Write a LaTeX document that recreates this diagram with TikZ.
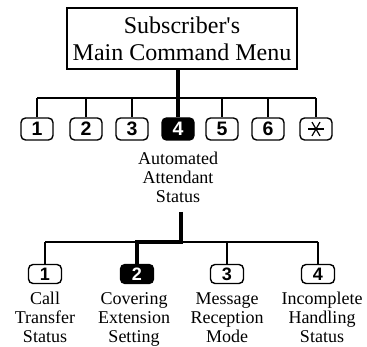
\documentclass[tikz,border=0pt]{standalone}
\usepackage{fontspec}
\setmainfont{Liberation Serif}[Ligatures=TeXOff]
\newfontfamily\keyfont{Liberation Sans}
\usetikzlibrary{positioning}

\tikzset{
  key/.style={draw, fill=white, line width=1.4pt, rounded corners=4.5pt,
    minimum width=32pt, minimum height=22pt, inner sep=0pt,
    font=\keyfont\bfseries\fontsize{19.5}{19.5}\selectfont},
  keyon/.style={key, fill=black, text=white},
  subkey/.style={key, minimum width=33pt, minimum height=19pt,
    font=\keyfont\bfseries\fontsize{18}{18}\selectfont},
  subkeyon/.style={subkey, fill=black, text=white},
  keytext/.style={align=center, inner sep=0pt, font=\fontsize{18}{19}\selectfont},
  busline/.style={line width=1.1pt},
  pathline/.style={line width=4pt}
}

\begin{document}
\begin{tikzpicture}[x=1pt, y=-1pt]
  \useasboundingbox (0,0) rectangle (367,347);

  \node [draw, line width=1.1pt, minimum width=230pt, minimum height=61pt,
         align=center, inner sep=0pt, font=\fontsize{24}{27}\selectfont]
        (menu) at (182,38.5) {Subscriber's\\Main Command Menu};

  % first level
  \coordinate (bus) at (0,98);
  \foreach \n/\x in {1/37, 2/86, 3/132, 5/222, 6/268}
    \node [key] (k\n) at (\x,129) {\n};
  \node [keyon] (k4) at (178,129) {4};
  \node [key] (k7) at (316,129) {};
  \foreach \a in {0, 60, 120}
    \draw [line width=1.2pt] (k7.center) ++(\a:8pt) -- ++(\a+180:16pt);

  \draw [busline] (k1.north |- bus) -- (k7.north |- bus);
  \foreach \n in {1, 2, 3, 5, 6, 7}
    \draw [busline] (k\n.north |- bus) -- (k\n.north);
  \draw [pathline] (menu.south -| k4.north) -- (k4.north);

  \node [keytext, below=11pt of k4] (aas) {Automated\\Attendant\\Status};

  % second level
  \coordinate (subbus) at (0,242);
  \coordinate (fork) at (181,212);
  \foreach \n/\x in {1/45, 3/227, 4/318}
    \node [subkey] (b\n) at (\x,274) {\n};
  \node [subkeyon] (b2) at (137,274) {2};

  \draw [busline] (b1.north |- subbus) -- (b4.north |- subbus);
  \foreach \n in {1, 3, 4}
    \draw [busline] (b\n.north |- subbus) -- (b\n.north);
  \draw [pathline] (fork) -- (fork |- subbus) -| (b2.north);

  \node [keytext, below=8pt of b1] (l1) {Call\\Transfer\\Status};
  \node [keytext, below=8pt of b2, xshift=-3pt] (l2) {Covering\\Extension\\Setting};
  \node [keytext, below=8pt of b3] (l3) {Message\\Reception\\Mode};
  \node [keytext, below=8pt of b4, xshift=4pt] (l4) {Incomplete\\Handling\\Status};
\end{tikzpicture}
\end{document}
